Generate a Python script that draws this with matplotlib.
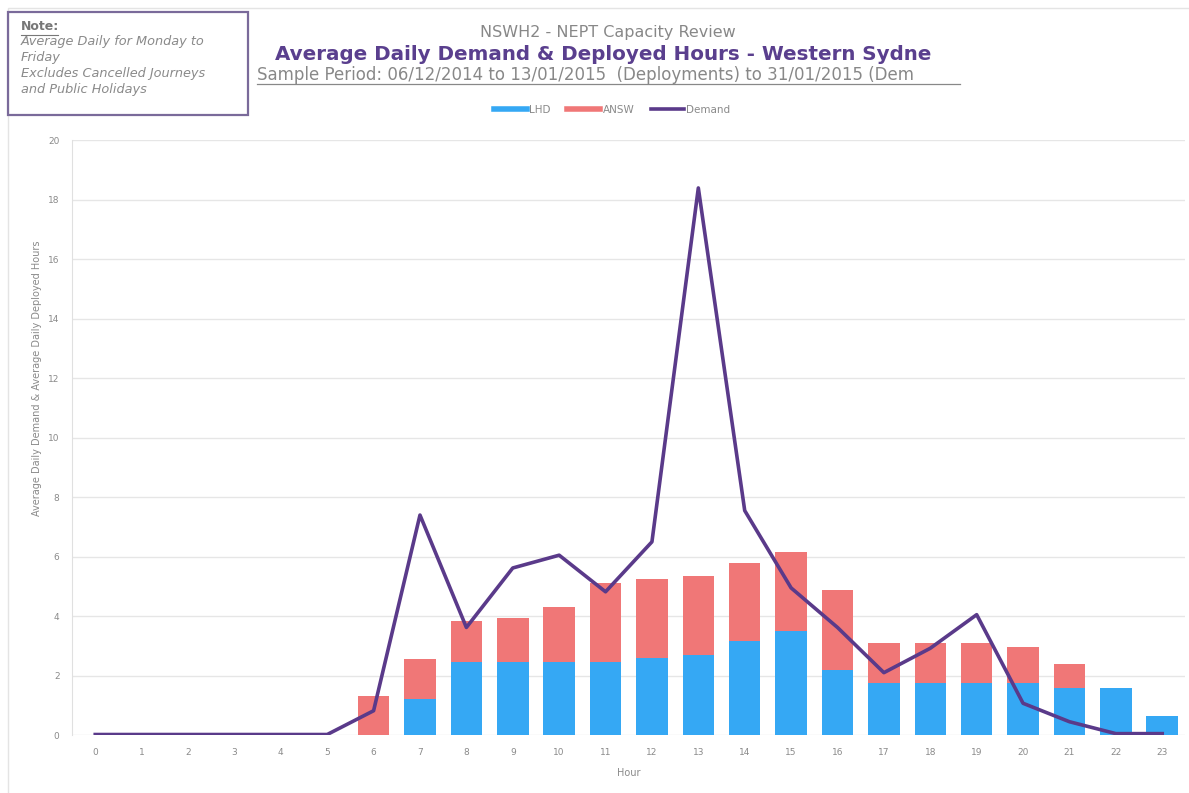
import numpy as np
import matplotlib.pyplot as plt
from matplotlib.patches import Rectangle
from matplotlib.lines import Line2D

hours = list(range(24))
lhd = [0, 0, 0, 0, 0, 0, 0, 1.2, 2.45, 2.45, 2.45, 2.45, 2.6, 2.7,
       3.15, 3.5, 2.2, 1.75, 1.75, 1.75, 1.75, 1.58, 1.58, 0.65]
answ = [0, 0, 0, 0, 0, 0, 1.32, 1.35, 1.38, 1.5, 1.85, 2.65, 2.65, 2.65,
        2.65, 2.67, 2.68, 1.35, 1.35, 1.35, 1.22, 0.82, 0, 0]
demand = [0.02, 0.02, 0.02, 0.02, 0.02, 0.02, 0.82, 7.4, 3.62, 5.62, 6.05,
          4.82, 6.5, 18.4, 7.55, 4.95, 3.62, 2.1, 2.92, 4.05, 1.07, 0.45,
          0.05, 0.05]

c_lhd = '#35a8f4'
c_answ = '#f07777'
c_dem = '#5a3a8a'
grey = '#8a8a8a'

W, H = 1189, 793


def fx(px):
    return px / W


def fy(py):
    return 1 - py / H


fig = plt.figure(figsize=(11.89, 7.93), dpi=100)
ax = fig.add_axes([0.0606, 0.073, 0.9364, 0.750])

ax.bar(hours, lhd, width=0.68, color=c_lhd, zorder=2)
ax.bar(hours, answ, width=0.68, bottom=lhd, color=c_answ, zorder=2)
ax.plot(hours, demand, color=c_dem, linewidth=2.6, zorder=3)

ax.set_xlim(-0.5, 23.5)
ax.set_ylim(0, 20)
ax.set_xticks(hours)
ax.set_yticks(range(0, 21, 2))
ax.tick_params(axis='both', length=0, labelsize=6.5, labelcolor=grey, pad=9)
ax.yaxis.grid(True, color='#e6e6e6', linewidth=1.0, zorder=0)
for side in ['top', 'right', 'bottom']:
    ax.spines[side].set_visible(False)
ax.spines['left'].set_color('#e0e0e0')
ax.set_xlabel('Hour', fontsize=7, color=grey, labelpad=8)
fig.text(fx(37), fy(378), 'Average Daily Demand & Average Daily Deployed Hours',
         fontsize=7, color=grey, rotation=90, ha='center', va='center')

# faint outer frame of the chart
fig.patches.append(Rectangle((0.007, -0.01), 1.0, 1.0, transform=fig.transFigure,
                             fill=False, edgecolor='#e4e4e4', linewidth=1.0))

# note box
fig.patches.append(Rectangle((fx(8), fy(115)), fx(240), 103 / H,
                             transform=fig.transFigure, fill=False,
                             edgecolor='#7a6a9a', linewidth=1.6))
fig.text(fx(21), fy(27), 'Note:', fontsize=9, color='#777777',
         fontweight='bold', va='center')
fig.add_artist(Line2D([fx(21), fx(58)], [fy(35), fy(35)],
                      color='#777777', linewidth=0.8))
note_lines = ['Average Daily for Monday to', 'Friday',
              'Excludes Cancelled Journeys', 'and Public Holidays']
for i, line in enumerate(note_lines):
    fig.text(fx(21), fy(42 + i * 15.7), line, fontsize=9.3,
             color='#8a8a8a', style='italic', va='center')

# titles
fig.text(fx(608), fy(33), 'NSWH2 - NEPT Capacity Review', fontsize=11.5,
         color='#888888', ha='center', va='center')
fig.text(fx(603), fy(55),
         'Average Daily Demand & Deployed Hours - Western Sydne',
         fontsize=14.3, color='#5a3f8e', fontweight='bold', ha='center',
         va='center')
fig.text(fx(257), fy(75),
         'Sample Period: 06/12/2014 to 13/01/2015  (Deployments) to 31/01/2015 (Dem',
         fontsize=12, color='#888888', ha='left', va='center')
fig.add_artist(Line2D([fx(257), fx(960)], [fy(84), fy(84)],
                      color='#888888', linewidth=0.9))

# legend
handles = [Line2D([], [], color=c_lhd, linewidth=4),
           Line2D([], [], color=c_answ, linewidth=4),
           Line2D([], [], color=c_dem, linewidth=2.6)]
fig.legend(handles, ['LHD', 'ANSW', 'Demand'], loc='center',
           bbox_to_anchor=(fx(612), fy(110)), ncol=3, frameon=False,
           fontsize=7.5, labelcolor=grey, handlelength=3.2, handletextpad=0.2,
           columnspacing=1.6)

fig.savefig('out.png', dpi=100)
